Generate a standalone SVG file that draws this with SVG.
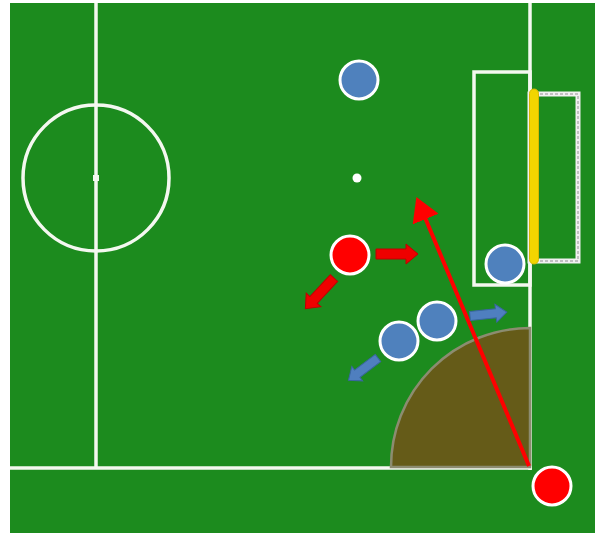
<svg xmlns="http://www.w3.org/2000/svg" width="596" height="533" viewBox="0 0 596 533">
<style>
.line{fill:none;stroke:#f4f8f0;stroke-width:3.5}
.blue{fill:#4f81bd;stroke:#ffffff;stroke-width:3}
.red{fill:#ff0000;stroke:#ffffff;stroke-width:3}
.rarrow{fill:#ee0000;stroke:#c00000;stroke-width:1}
.barrow{fill:#4f7fbf;stroke:#3a66a0;stroke-width:1}
</style>
<defs>
<path id="blk" d="M0,-5 L30,-5 L30,-10 L42,0 L30,10 L30,5 L0,5 Z"/>
<path id="blkb" d="M0,-4.5 L26,-4.5 L26,-9 L37,0 L26,9 L26,4.5 L0,4.5 Z"/>
<marker id="ah" markerWidth="7" markerHeight="7" refX="3" refY="3.5" orient="auto" markerUnits="strokeWidth">
<path d="M0,0 L6,3.5 L0,7 Z" fill="#ff0000"/>
</marker>
</defs>
<rect x="0" y="0" width="596" height="533" fill="#ffffff"/>
<rect x="10" y="3" width="585" height="530" fill="#1c8b1e"/>
<g id="field">
<line class="line" x1="96" y1="3" x2="96" y2="468"/>
<circle class="line" cx="96" cy="178" r="73"/>
<rect x="93" y="175" width="6" height="6" fill="#f4f8f0"/>
<line class="line" x1="10" y1="468" x2="532" y2="468" stroke-width="4"/>
<line class="line" x1="530" y1="3" x2="530" y2="470"/>
<rect class="line" x="474" y="72" width="56" height="213"/>
<rect x="530" y="94" width="48" height="167" fill="none" stroke="#f0f0f0" stroke-width="5"/>
<rect x="530" y="94" width="48" height="167" fill="none" stroke="#909090" stroke-width="1" stroke-dasharray="3 2"/>
<rect x="529.5" y="89" width="9" height="175" rx="4.5" fill="#f2d500" stroke="#d8b800" stroke-width="1"/>
</g>
<g id="corner-zone">
<path d="M530,467 L391,467 A139,139 0 0 1 530,328 Z" fill="#655b18" stroke="#8c8c70" stroke-width="2.5"/>
</g>
<circle id="ball" cx="357" cy="178" r="4.5" fill="#ffffff"/>
<g id="connectors">
<line x1="529" y1="466" x2="421" y2="208" stroke="#ff0000" stroke-width="4" marker-end="url(#ah)"/>
<use href="#blk" class="rarrow" transform="translate(376,254)"/>
<use href="#blk" class="rarrow" transform="translate(334,278) rotate(133)"/>
<use href="#blkb" class="barrow" transform="translate(470,316) rotate(-6)"/>
<use href="#blkb" class="barrow" transform="translate(378,358) rotate(143)"/>
</g>
<g id="players">
<circle id="blue1" class="blue" cx="359" cy="80" r="19"/>
<circle id="red1" class="red" cx="350" cy="255" r="19"/>
<circle id="keeper" class="blue" cx="505" cy="264" r="19"/>
<circle id="blue2" class="blue" cx="437" cy="321" r="19"/>
<circle id="blue3" class="blue" cx="399" cy="341" r="19"/>
<circle id="red2" class="red" cx="552" cy="486" r="19"/>
</g>
</svg>
